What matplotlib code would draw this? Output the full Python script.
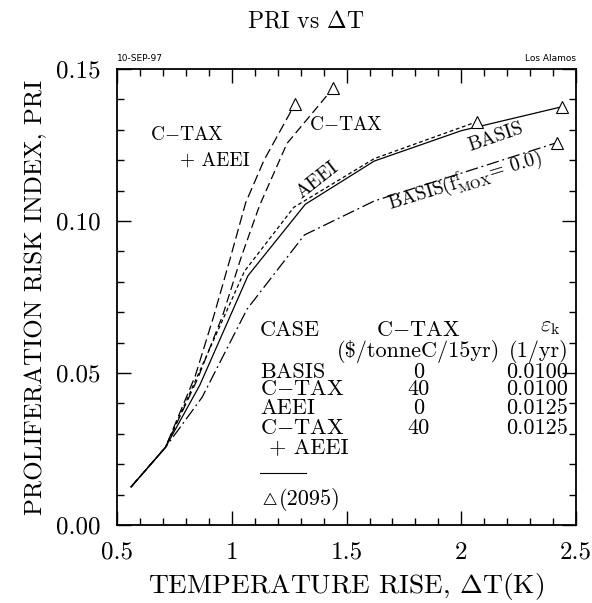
import matplotlib
matplotlib.use('Agg')
import matplotlib.pyplot as plt
from matplotlib.ticker import MultipleLocator

plt.rcParams['font.family'] = ['cmr10', 'DejaVu Serif']
plt.rcParams['mathtext.fontset'] = 'cm'
plt.rcParams['axes.formatter.use_mathtext'] = True

# Temperature rise (K) and PRI for each case, last point = year 2095
basis_dt = [0.56, 0.71, 0.86, 1.07, 1.32, 1.62, 2.00, 2.44]
basis_pri = [0.0125, 0.0255, 0.046, 0.082, 0.1055, 0.1197, 0.1297, 0.1376]

aeei_dt = [0.56, 0.71, 0.85, 1.055, 1.27, 1.62, 2.07]
aeei_pri = [0.0125, 0.0255, 0.049, 0.0835, 0.1045, 0.1205, 0.1327]

ctax_dt = [0.56, 0.71, 0.85, 0.96, 1.04, 1.12, 1.24, 1.44]
ctax_pri = [0.0125, 0.0255, 0.048, 0.069, 0.088, 0.105, 0.1255, 0.1436]

ctax_aeei_dt = [0.56, 0.71, 0.84, 0.92, 0.99, 1.06, 1.14, 1.275]
ctax_aeei_pri = [0.0125, 0.0255, 0.049, 0.0685, 0.087, 0.106, 0.120, 0.1385]

nomox_dt = [0.56, 0.71, 0.87, 1.066, 1.316, 1.621, 2.418]
nomox_pri = [0.0125, 0.0255, 0.042, 0.071, 0.0954, 0.1066, 0.1258]

xticks = [0.5, 1, 1.5, 2, 2.5]
xticklabels = ['0.5', '1', '1.5', '2', '2.5']
yticks = [0.0, 0.05, 0.10, 0.15]
yticklabels = ['0.00', '0.05', '0.10', '0.15']

# legend table
table_cases = ['BASIS', 'C$-$TAX', 'AEEI', 'C$-$TAX']
table_ctax = ['0', '40', '0', '40']
table_eps = ['0.0100', '0.0100', '0.0125', '0.0125']

fig = plt.figure(figsize=(5.92, 6.03), dpi=100)
ax = fig.add_axes([0.198, 0.1294, 0.775, 0.7562])

lw = 0.9
ax.plot(basis_dt, basis_pri, color='black', lw=lw)
ax.plot(aeei_dt, aeei_pri, color='black', lw=lw, dashes=(3, 2.2))
ax.plot(ctax_dt, ctax_pri, color='black', lw=lw, dashes=(7, 3.5))
ax.plot(ctax_aeei_dt, ctax_aeei_pri, color='black', lw=lw, dashes=(8, 3.5))
ax.plot(nomox_dt, nomox_pri, color='black', lw=lw, dashes=(10, 3, 1.5, 3))

# 2095 end points
for xs, ys in [(basis_dt, basis_pri), (aeei_dt, aeei_pri), (ctax_dt, ctax_pri),
               (ctax_aeei_dt, ctax_aeei_pri), (nomox_dt, nomox_pri)]:
    ax.plot(xs[-1], ys[-1], marker='^', ms=8, mfc='white', mec='black',
            mew=0.8, ls='none', zorder=3)

ax.set_xlim(0.5, 2.5)
ax.set_ylim(0, 0.15)
ax.set_xticks(xticks)
ax.set_xticklabels(xticklabels)
ax.set_yticks(yticks)
ax.set_yticklabels(yticklabels)
ax.xaxis.set_minor_locator(MultipleLocator(0.1))
ax.yaxis.set_minor_locator(MultipleLocator(0.01))
ax.tick_params(which='both', direction='in', top=True, right=True,
               labelsize=18, width=1.0)
ax.tick_params(which='major', length=10, pad=12)
ax.tick_params(which='minor', length=5)
for s in ax.spines.values():
    s.set_linewidth(1.3)

ax.set_xlabel(r'TEMPERATURE RISE, $\Delta$T(K)', fontsize=19.8, labelpad=5)
ax.set_ylabel('PROLIFERATION RISK INDEX, PRI', fontsize=18, labelpad=6)
fig.text(0.517, 0.965, r'PRI vs $\Delta$T', fontsize=17, ha='center', va='center')

fig.text(0.198, 0.903, '10-SEP-97', fontsize=6.5, family='DejaVu Sans', va='center')
fig.text(0.973, 0.903, 'Los Alamos', fontsize=6.5, family='DejaVu Sans',
         va='center', ha='right')

# curve labels
ax.text(0.643, 0.1283, 'C$-$TAX', fontsize=14, va='center')
ax.text(0.774, 0.1200, '+ AEEI', fontsize=14, va='center')
ax.text(1.338, 0.1316, 'C$-$TAX', fontsize=14, va='center')
ax.text(1.372, 0.1135, 'AEEI', fontsize=14, ha='center', va='center', rotation=38)
ax.text(2.152, 0.1275, 'BASIS', fontsize=14, ha='center', va='center', rotation=19)
ax.text(2.016, 0.1133, r'BASIS(f$^{\rm f}_{\rm MOX}$= 0.0)', fontsize=14,
        ha='center', va='center', rotation=17)

# legend table
tfs = 16
ax.text(0.311, 0.426, 'CASE', transform=ax.transAxes, fontsize=tfs, va='center')
ax.text(0.656, 0.428, 'C$-$TAX', transform=ax.transAxes, fontsize=tfs,
        va='center', ha='center')
ax.text(0.943, 0.434, r'$\varepsilon_{\rm k}$', transform=ax.transAxes, fontsize=tfs,
        va='center', ha='center')
ax.text(0.657, 0.381, '(\\$/tonneC/15yr)', transform=ax.transAxes, fontsize=tfs,
        va='center', ha='center')
ax.text(0.918, 0.381, '(1/yr)', transform=ax.transAxes, fontsize=tfs,
        va='center', ha='center')
row_y = [0.336, 0.297, 0.256, 0.213]
for yy, name, tax, eps in zip(row_y, table_cases, table_ctax, table_eps):
    ax.text(0.311, yy, name, transform=ax.transAxes, fontsize=tfs, va='center')
    ax.text(0.656, yy, tax, transform=ax.transAxes, fontsize=tfs,
            va='center', ha='center')
    ax.text(0.982, yy, eps, transform=ax.transAxes, fontsize=tfs,
            va='center', ha='right')
ax.text(0.330, 0.170, '+ AEEI', transform=ax.transAxes, fontsize=tfs, va='center')
ax.plot([0.311, 0.412], [0.115, 0.115], transform=ax.transAxes, color='black', lw=0.8)
ax.text(0.311, 0.058, r'$\triangle$', transform=ax.transAxes, fontsize=9,
        va='center')
ax.text(0.352, 0.055, '(2095)', transform=ax.transAxes, fontsize=tfs, va='center')

fig.savefig('out.png', dpi=100)
